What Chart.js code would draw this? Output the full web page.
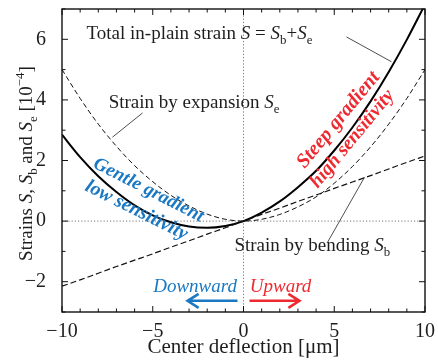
<!DOCTYPE html>
<html lang="en">
<head>
<meta charset="UTF-8">
<title>Strain vs center deflection</title>
<style>
  html, body { margin: 0; padding: 0; background: #fff; }
  .container { width: 438px; height: 360px; }
</style>
</head>
<body>
<div class="container"><canvas id="myChart" width="438" height="360"></canvas></div>
<script src="https://cdn.jsdelivr.net/npm/chart.js"></script>
<script>
// center deflection [um]
const deflection = [-10, -9, -8, -7, -6, -5, -4, -3, -2, -1, 0, 1, 2, 3, 4, 5, 6, 7, 8, 9, 10];
// strain by expansion Se [1e-4]
const strainExp = [5.0, 4.05, 3.2, 2.47, 1.83, 1.3, 0.85, 0.5, 0.23, 0.06, 0, 0.06, 0.22, 0.47, 0.8, 1.25, 1.8, 2.45, 3.2, 4.05, 5.0];
// strain by bending Sb
const strainBend = [-2.15, -1.94, -1.72, -1.5, -1.29, -1.08, -0.86, -0.65, -0.43, -0.22, 0, 0.22, 0.43, 0.65, 0.86, 1.08, 1.29, 1.5, 1.72, 1.94, 2.15];
// total S = Sb + Se
const strainTotal = [2.85, 2.11, 1.48, 0.96, 0.52, 0.19, -0.04, -0.18, -0.22, -0.16, 0, 0.28, 0.65, 1.12, 1.66, 2.33, 3.09, 3.95, 4.92, 5.99, 7.15];

const xTicks = [-10, -5, 0, 5, 10];
const yTicks = [-2, 0, 2, 4, 6];

const BLUE = '#1b79c3';
const RED = '#ee2a30';
const INK = '#1e1e1e';
const SERIF = '"Liberation Serif", "DejaVu Serif", serif';

function pts(ys) {
    return deflection.map((x, i) => ({x: x, y: ys[i]}));
}

// draws a run of text pieces (italic / subscript / superscript)
function richText(ctx, segs, x, y, size, color, align) {
    const parts = segs.map(s => {
        const small = s.sub || s.sup;
        const sz = small ? size * 0.68 : size;
        const font = (s.i ? 'italic ' : '') + sz + 'px ' + SERIF;
        ctx.font = font;
        return {t: s.t, font, w: ctx.measureText(s.t).width, dy: s.sub ? size * 0.24 : (s.sup ? -size * 0.4 : 0)};
    });
    const total = parts.reduce((a, p) => a + p.w, 0);
    let cx = align === 'center' ? x - total / 2 : (align === 'right' ? x - total : x);
    ctx.fillStyle = color;
    ctx.textAlign = 'left';
    ctx.textBaseline = 'alphabetic';
    parts.forEach(p => {
        ctx.font = p.font;
        ctx.fillText(p.t, cx, y + p.dy);
        cx += p.w;
    });
}

function arrow(ctx, x1, y, x2, color) {
    const dir = Math.sign(x2 - x1);
    ctx.save();
    ctx.strokeStyle = color;
    ctx.lineWidth = 2.6;
    ctx.lineCap = 'butt';
    ctx.beginPath();
    ctx.moveTo(x1, y);
    ctx.lineTo(x2, y);
    ctx.moveTo(x2 - dir * 11, y - 7);
    ctx.lineTo(x2, y);
    ctx.lineTo(x2 - dir * 11, y + 7);
    ctx.stroke();
    ctx.restore();
}

// bold italic note along a slope, sized to span `len` pixels
function rotatedLabel(ctx, text, cx, cy, deg, len, color) {
    ctx.save();
    ctx.font = 'italic bold 19px ' + SERIF;
    let size = 19 * len / ctx.measureText(text).width;
    size = Math.max(16, Math.min(21, size));
    ctx.translate(cx, cy);
    ctx.rotate(deg * Math.PI / 180);
    ctx.font = 'italic bold ' + size.toFixed(1) + 'px ' + SERIF;
    ctx.fillStyle = color;
    ctx.textAlign = 'center';
    ctx.textBaseline = 'middle';
    ctx.fillText(text, 0, 0);
    ctx.restore();
}

const zeroLines = {
    id: 'zeroLines',
    beforeDatasetsDraw(chart) {
        const {ctx, chartArea: a, scales: {x, y}} = chart;
        ctx.save();
        ctx.strokeStyle = '#777';
        ctx.lineWidth = 1;
        ctx.setLineDash([1.2, 2]);
        ctx.beginPath();
        ctx.moveTo(a.left, y.getPixelForValue(0));
        ctx.lineTo(a.right, y.getPixelForValue(0));
        ctx.moveTo(x.getPixelForValue(0), a.top);
        ctx.lineTo(x.getPixelForValue(0), a.bottom);
        ctx.stroke();
        ctx.restore();
    }
};

const frameAndNotes = {
    id: 'frameAndNotes',
    afterDatasetsDraw(chart) {
        const {ctx, chartArea: a, scales: {x, y}} = chart;
        const X = v => x.getPixelForValue(v);
        const Y = v => y.getPixelForValue(v);
        ctx.save();

        // frame + inward ticks on all sides
        ctx.strokeStyle = '#111';
        ctx.lineWidth = 1.4;
        ctx.strokeRect(a.left, a.top, a.right - a.left, a.bottom - a.top);
        ctx.lineWidth = 1;
        ctx.beginPath();
        for (let v = -10; v <= 10; v++) {
            const len = v % 5 === 0 ? 6 : 3.5;
            const px = X(v);
            ctx.moveTo(px, a.bottom); ctx.lineTo(px, a.bottom - len);
            ctx.moveTo(px, a.top); ctx.lineTo(px, a.top + len);
        }
        for (let v = -3; v <= 7; v++) {
            const len = v % 2 === 0 ? 6 : 3.5;
            const py = Y(v);
            ctx.moveTo(a.left, py); ctx.lineTo(a.left + len, py);
            ctx.moveTo(a.right, py); ctx.lineTo(a.right - len, py);
        }
        ctx.stroke();

        // y axis title
        ctx.save();
        ctx.translate(32, (a.top + a.bottom) / 2 + 3);
        ctx.rotate(-Math.PI / 2);
        richText(ctx, [
            {t: 'Strains '}, {t: 'S', i: true}, {t: ', '}, {t: 'S', i: true}, {t: 'b', sub: true},
            {t: ' and '}, {t: 'S', i: true}, {t: 'e', sub: true}, {t: ' [10'}, {t: '\u22124', sup: true}, {t: ']'}
        ], 0, 0, 19, INK, 'center');
        ctx.restore();

        // series labels
        richText(ctx, [
            {t: 'Total in-plain strain '}, {t: 'S', i: true}, {t: ' = '}, {t: 'S', i: true}, {t: 'b', sub: true},
            {t: '+'}, {t: 'S', i: true}, {t: 'e', sub: true}
        ], X(-8.65), Y(6.0), 19, INK, 'left');
        richText(ctx, [{t: 'Strain by expansion '}, {t: 'S', i: true}, {t: 'e', sub: true}],
            X(-7.43), Y(3.72), 19, INK, 'left');
        richText(ctx, [{t: 'Strain by bending '}, {t: 'S', i: true}, {t: 'b', sub: true}],
            X(-0.5), Y(-1.0), 19, INK, 'left');

        // leader lines
        ctx.strokeStyle = '#222';
        ctx.lineWidth = 0.8;
        ctx.beginPath();
        ctx.moveTo(X(5.67), Y(6.08)); ctx.lineTo(X(8.15), Y(5.26));
        ctx.moveTo(X(-5.56), Y(3.57)); ctx.lineTo(X(-7.22), Y(2.77));
        ctx.moveTo(X(4.63), Y(-0.7)); ctx.lineTo(X(6.67), Y(1.45));
        ctx.stroke();

        // direction hints
        ctx.font = 'italic 19px ' + SERIF;
        ctx.textAlign = 'center';
        ctx.textBaseline = 'alphabetic';
        ctx.fillStyle = BLUE;
        ctx.fillText('Downward', X(-2.67), Y(-2.33));
        ctx.fillStyle = RED;
        ctx.fillText('Upward', X(2.04), Y(-2.33));
        arrow(ctx, X(-0.33), Y(-2.63), X(-3.08), BLUE);
        arrow(ctx, X(0.33), Y(-2.63), X(3.08), RED);

        // slope notes
        rotatedLabel(ctx, 'Gentle gradient', X(-5.23), Y(1.02), 27, 121, BLUE);
        rotatedLabel(ctx, 'low sensitivity', X(-5.9), Y(0.35), 26.6, 112, BLUE);
        rotatedLabel(ctx, 'Steep gradient', X(5.23), Y(3.34), -50.5, 119, RED);
        rotatedLabel(ctx, 'high sensitivity', X(6.0), Y(2.71), -50.5, 121, RED);

        ctx.restore();
    }
};

const ctx = document.querySelector('#myChart').getContext('2d');
new Chart(ctx, {
    type: 'line',
    data: {
        datasets: [
            {label: 'Se', data: pts(strainExp), borderColor: '#111', borderWidth: 1, borderDash: [5, 3]},
            {label: 'Sb', data: pts(strainBend), borderColor: '#111', borderWidth: 1.2, borderDash: [6, 3]},
            {label: 'S', data: pts(strainTotal), borderColor: '#000', borderWidth: 2}
        ]
    },
    plugins: [zeroLines, frameAndNotes],
    options: {
        responsive: false,
        animation: false,
        devicePixelRatio: 1,
        layout: {padding: {top: 9, right: 13, left: 0, bottom: 0}},
        elements: {
            point: {radius: 0},
            line: {cubicInterpolationMode: 'monotone', fill: false}
        },
        plugins: {
            legend: {display: false},
            tooltip: {enabled: false}
        },
        scales: {
            x: {
                type: 'linear',
                min: -10,
                max: 10,
                grid: {display: false},
                border: {display: false},
                afterBuildTicks: s => { s.ticks = xTicks.map(v => ({value: v})); },
                afterFit: s => { s.height = 48; s.paddingLeft = 0; s.paddingRight = 0; },
                ticks: {
                    padding: 0,
                    maxRotation: 0,
                    color: INK,
                    font: {family: SERIF, size: 20},
                    callback: v => String(v).replace('-', '\u2212')
                },
                title: {
                    display: true,
                    text: 'Center deflection [\u03bcm]',
                    color: INK,
                    padding: {top: 0, bottom: 0},
                    font: {family: SERIF, size: 21}
                }
            },
            y: {
                min: -3,
                max: 7,
                grid: {display: false},
                border: {display: false},
                afterBuildTicks: s => { s.ticks = yTicks.map(v => ({value: v})); },
                afterFit: s => { s.width = 62; s.paddingTop = 0; s.paddingBottom = 0; },
                ticks: {
                    padding: 8,
                    color: INK,
                    font: {family: SERIF, size: 20},
                    callback: v => String(v).replace('-', '\u2212')
                }
            }
        }
    }
});
</script>
</body>
</html>
